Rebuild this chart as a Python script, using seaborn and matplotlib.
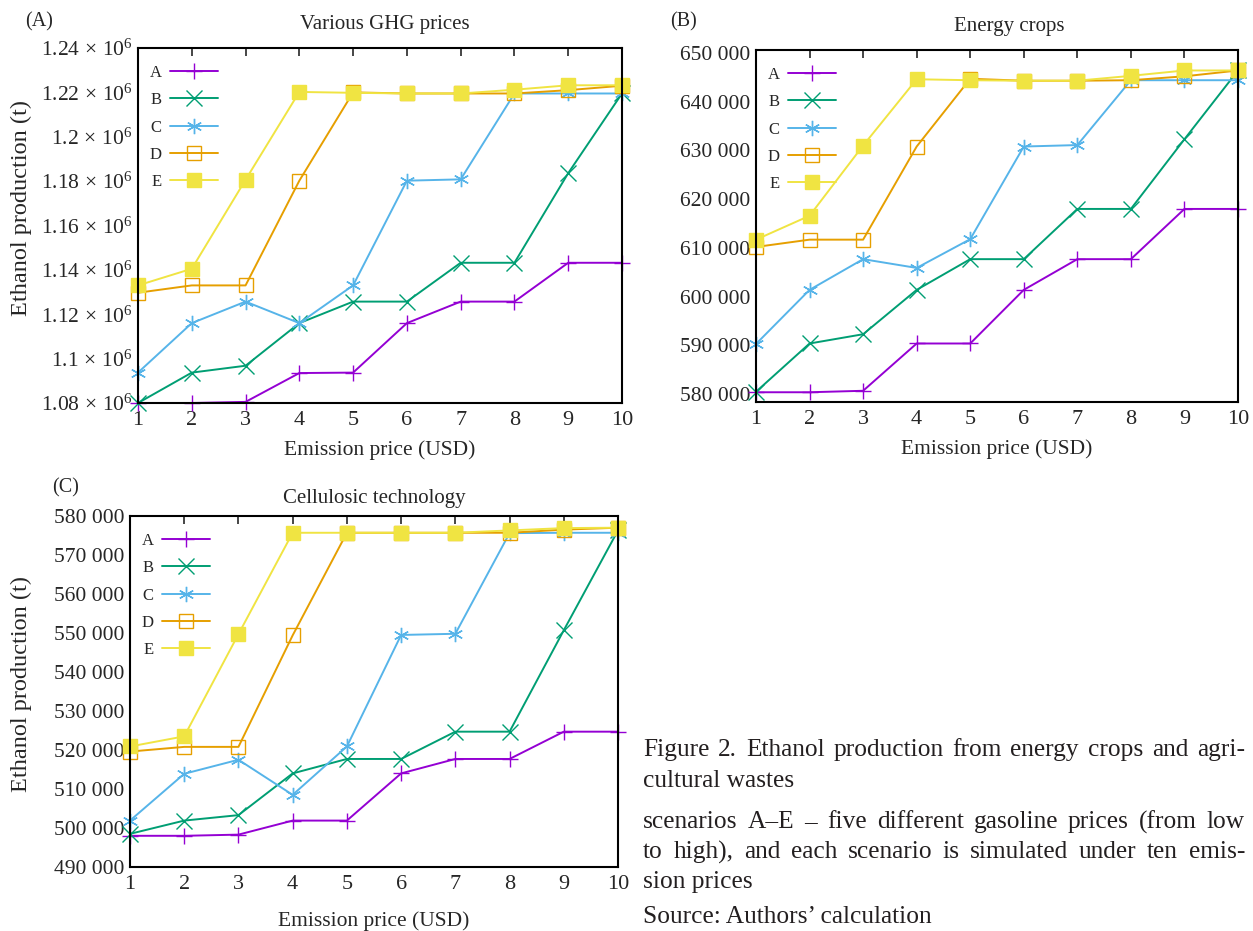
import matplotlib
matplotlib.use("Agg")
import matplotlib.pyplot as plt
from matplotlib.ticker import FuncFormatter, FixedLocator
import pandas as pd
import seaborn as sns

# emission price (USD) on the x axis
price = [1, 2, 3, 4, 5, 6, 7, 8, 9, 10]
scenarios = ["A", "B", "C", "D", "E"]

# (A) Various GHG prices, ethanol production in 10^6 t
ghg_A = [1.0800, 1.0800, 1.0805, 1.0935, 1.0937, 1.1160, 1.1257, 1.1257, 1.1432, 1.1432]
ghg_B = [1.0800, 1.0937, 1.0968, 1.1160, 1.1257, 1.1257, 1.1432, 1.1432, 1.1836, 1.2195]
ghg_C = [1.0937, 1.1160, 1.1257, 1.1160, 1.1330, 1.1802, 1.1808, 1.2195, 1.2195, 1.2195]
ghg_D = [1.1297, 1.1330, 1.1330, 1.1802, 1.2200, 1.2195, 1.2195, 1.2195, 1.2210, 1.2230]
ghg_E = [1.1330, 1.1405, 1.1806, 1.2202, 1.2198, 1.2195, 1.2195, 1.2212, 1.2232, 1.2232]

# (B) Energy crops, t
crop_A = [580400, 580400, 580700, 590400, 590400, 601400, 607700, 607700, 618000, 618000]
crop_B = [580500, 590400, 592300, 601400, 607700, 607700, 618000, 618000, 632300, 646400]
crop_C = [590300, 601400, 607700, 605900, 611800, 630800, 631100, 644400, 644400, 644400]
crop_D = [610200, 611700, 611700, 630800, 644700, 644300, 644300, 644400, 645200, 646400]
crop_E = [611700, 616600, 631000, 644600, 644400, 644300, 644300, 645300, 646400, 646400]

# (C) Cellulosic technology, t
cell_A = [498000, 498000, 498300, 501900, 501900, 514000, 517700, 517700, 524700, 524700]
cell_B = [498500, 501900, 503300, 514000, 517700, 517700, 524700, 524700, 550700, 576300]
cell_C = [501900, 513900, 517500, 508500, 520900, 549500, 549800, 575600, 575700, 575700]
cell_D = [519600, 520800, 520800, 549400, 575700, 575700, 575700, 575700, 576500, 577000]
cell_E = [520900, 523500, 549700, 575700, 575700, 575700, 575700, 576300, 576900, 577000]

colors = {"A": "#9400D3", "B": "#009E73", "C": "#56B4E9", "D": "#E69F00", "E": "#F0E442"}
markers = {"A": "+", "B": "x", "C": (6, 2, 0), "D": "s", "E": "s"}

sns.set_style("white")
plt.rcParams["font.family"] = ["Liberation Serif", "DejaVu Serif"]
plt.rcParams["mathtext.fontset"] = "custom"
plt.rcParams["mathtext.rm"] = "Liberation Serif"
plt.rcParams["mathtext.it"] = "Liberation Serif:italic"

W, H = 1253, 931
fig = plt.figure(figsize=(W / 100, H / 100), dpi=100)


def box(l, t, r, b):
    return [l / W, 1 - b / H, (r - l) / W, (b - t) / H]


def panel(ax, series, fmt, ylim, yticks):
    for s, vals in zip(scenarios, series):
        kw = dict(markeredgewidth=1.0)
        if s == "D":
            kw.update(markerfacecolor="none", markeredgecolor=colors[s], markersize=9.5)
        elif s == "E":
            kw.update(markerfacecolor=colors[s], markeredgecolor=colors[s], markersize=10)
        else:
            kw.update(markeredgecolor=colors[s], markersize=11)
        sns.lineplot(x=price, y=vals, ax=ax, color=colors[s], marker=markers[s],
                     linewidth=1.4, label=s, clip_on=False, **kw)
    ax.set_xlim(1, 10)
    ax.set_ylim(*ylim)
    ax.xaxis.set_major_locator(FixedLocator(price))
    ax.yaxis.set_major_locator(FixedLocator(yticks))
    ax.yaxis.set_major_formatter(FuncFormatter(fmt))
    ax.tick_params(axis="x", direction="in", top=True, length=6, width=1.2, labelsize=16, pad=6)
    ax.tick_params(axis="y", direction="in", length=0, labelsize=15.5, pad=4)
    for sp in ax.spines.values():
        sp.set_linewidth(1.5)
        sp.set_color("black")
    ax.set_xlabel("Emission price (USD)", fontsize=15.5, labelpad=2)
    leg = ax.legend(loc="upper left", frameon=False, markerfirst=False, fontsize=12,
                    handlelength=2.9, labelspacing=0.68, handletextpad=0.5,
                    bbox_to_anchor=(0.0, 0.985), borderaxespad=0.3)
    return leg


def sci(v, pos):
    return r"%g$\,\times\,$10$^{6}$" % round(v, 2)


def spaced(v, pos):
    return "{:,}".format(int(round(v))).replace(",", " ")


axA = fig.add_axes(box(138, 48, 622, 403))
panel(axA, [ghg_A, ghg_B, ghg_C, ghg_D, ghg_E], sci, (1.08, 1.24),
      [1.08, 1.10, 1.12, 1.14, 1.16, 1.18, 1.20, 1.22, 1.24])
axA.set_ylabel("Ethanol production (t)", fontsize=17.5)
axA.yaxis.set_label_coords((32 - 138) / 484, 0.55)
axA.xaxis.set_label_coords(0.5, -0.105)

axB = fig.add_axes(box(756, 50, 1238, 402))
panel(axB, [crop_A, crop_B, crop_C, crop_D, crop_E], spaced, (578400, 650600),
      [580000, 590000, 600000, 610000, 620000, 630000, 640000, 650000])
axB.xaxis.set_label_coords(0.5, -0.105)

axC = fig.add_axes(box(130, 516, 618, 867))
panel(axC, [cell_A, cell_B, cell_C, cell_D, cell_E], spaced, (490000, 580000),
      [490000, 500000, 510000, 520000, 530000, 540000, 550000, 560000, 570000, 580000])
axC.set_ylabel("Ethanol production (t)", fontsize=17.5)
axC.yaxis.set_label_coords((32 - 130) / 488, 0.52)
axC.xaxis.set_label_coords(0.5, -0.125)

# panel letters and titles
fig.text(25 / W, 1 - 22 / H, "(A)", fontsize=14.5, va="center")
fig.text(385 / W, 1 - 24 / H, "Various GHG prices", fontsize=15, ha="center", va="center")
fig.text(670 / W, 1 - 22 / H, "(B)", fontsize=14.5, va="center")
fig.text(1009 / W, 1 - 26 / H, "Energy crops", fontsize=15, ha="center", va="center")
fig.text(52 / W, 1 - 488 / H, "(C)", fontsize=14.5, va="center")
fig.text(374 / W, 1 - 499 / H, "Cellulosic technology", fontsize=15, ha="center", va="center")

# caption, justified like the journal layout
cap_left, cap_right = 643, 1245
caption = [
    ("Figure 2. Ethanol production from energy crops and agri-", 750, True),
    ("cultural wastes", 781, False),
    ("scenarios A\u2013E \u2013 five different gasoline prices (from low", 822, True),
    ("to high), and each scenario is simulated under ten emis-", 852, True),
    ("sion prices", 882, False),
    ("Source: Authors\u2019 calculation", 917, False),
]
cap_size = 18.3
renderer = fig.canvas.get_renderer()
for line, y, justify in caption:
    if not justify:
        fig.text(cap_left / W, 1 - y / H, line, fontsize=cap_size, va="center", color="#231f20")
        continue
    words = line.split(" ")
    items = []
    total = 0
    for w in words:
        t = fig.text(0, 1 - y / H, w, fontsize=cap_size, va="center", color="#231f20")
        wpx = t.get_window_extent(renderer=renderer).width
        items.append((t, wpx))
        total += wpx
    gap = (cap_right - cap_left - total) / (len(words) - 1)
    x = cap_left
    for t, wpx in items:
        t.set_x(x / W)
        x += wpx + gap

fig.savefig("out.png", dpi=100, facecolor="white")
